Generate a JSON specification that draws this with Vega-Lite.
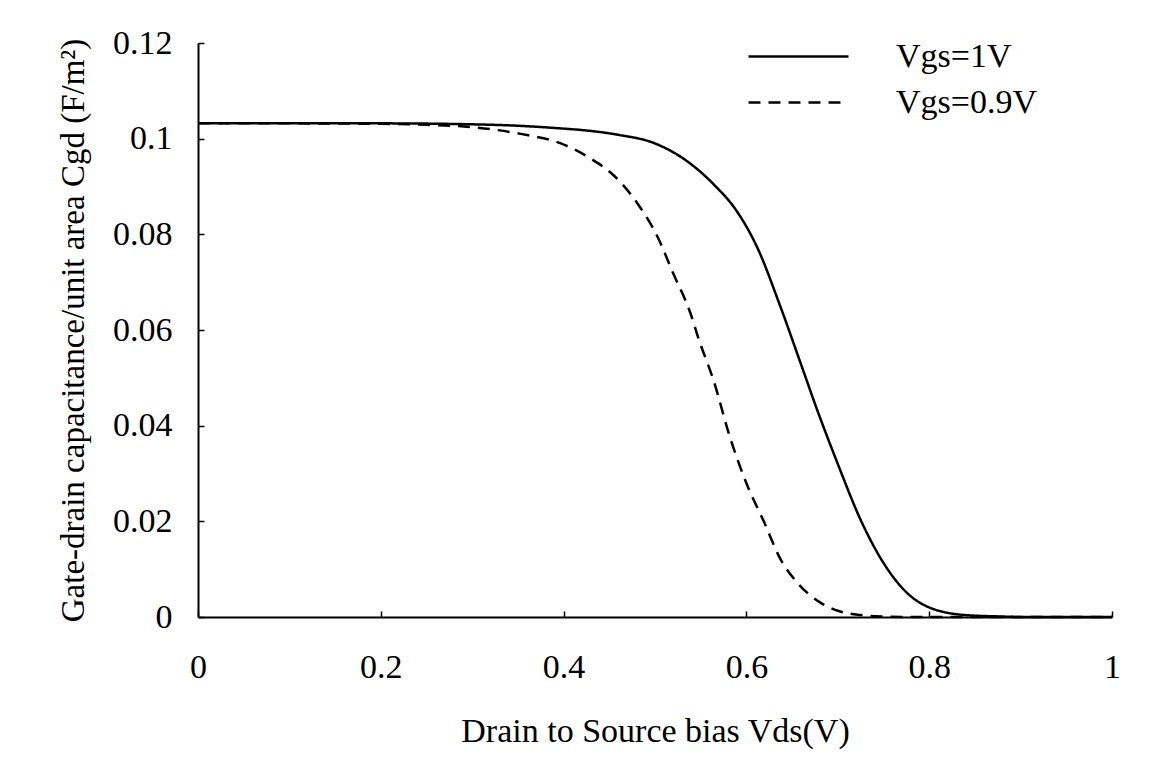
{
  "$schema": "https://vega.github.io/schema/vega-lite/v6.json",
  "width": 914,
  "height": 574,
  "autosize": {"type": "none"},
  "padding": {"left": 198, "top": 43, "right": 40, "bottom": 164},
  "background": "white",
  "config": {
    "view": {"stroke": null},
    "font": "Liberation Serif"
  },
  "data": {
    "values": [
      {"vds": 0, "cgd": 0.1032, "series": "Vgs=1V"},
      {"vds": 0.1, "cgd": 0.1032, "series": "Vgs=1V"},
      {"vds": 0.2, "cgd": 0.1032, "series": "Vgs=1V"},
      {"vds": 0.3, "cgd": 0.1030, "series": "Vgs=1V"},
      {"vds": 0.35, "cgd": 0.1027, "series": "Vgs=1V"},
      {"vds": 0.4, "cgd": 0.1021, "series": "Vgs=1V"},
      {"vds": 0.42, "cgd": 0.1018, "series": "Vgs=1V"},
      {"vds": 0.46, "cgd": 0.1008, "series": "Vgs=1V"},
      {"vds": 0.5, "cgd": 0.0990, "series": "Vgs=1V"},
      {"vds": 0.535, "cgd": 0.0953, "series": "Vgs=1V"},
      {"vds": 0.565, "cgd": 0.0903, "series": "Vgs=1V"},
      {"vds": 0.59, "cgd": 0.0847, "series": "Vgs=1V"},
      {"vds": 0.612, "cgd": 0.0772, "series": "Vgs=1V"},
      {"vds": 0.637, "cgd": 0.0650, "series": "Vgs=1V"},
      {"vds": 0.66, "cgd": 0.0527, "series": "Vgs=1V"},
      {"vds": 0.678, "cgd": 0.0430, "series": "Vgs=1V"},
      {"vds": 0.7, "cgd": 0.0320, "series": "Vgs=1V"},
      {"vds": 0.725, "cgd": 0.0203, "series": "Vgs=1V"},
      {"vds": 0.75, "cgd": 0.0113, "series": "Vgs=1V"},
      {"vds": 0.776, "cgd": 0.0050, "series": "Vgs=1V"},
      {"vds": 0.8, "cgd": 0.0020, "series": "Vgs=1V"},
      {"vds": 0.84, "cgd": 0.0004, "series": "Vgs=1V"},
      {"vds": 0.88, "cgd": 0.0001, "series": "Vgs=1V"},
      {"vds": 0.9, "cgd": 0, "series": "Vgs=1V"},
      {"vds": 1.0, "cgd": 0, "series": "Vgs=1V"},
      {"vds": 0, "cgd": 0.1032, "series": "Vgs=0.9V"},
      {"vds": 0.1, "cgd": 0.1032, "series": "Vgs=0.9V"},
      {"vds": 0.2, "cgd": 0.1031, "series": "Vgs=0.9V"},
      {"vds": 0.25, "cgd": 0.1029, "series": "Vgs=0.9V"},
      {"vds": 0.3, "cgd": 0.1024, "series": "Vgs=0.9V"},
      {"vds": 0.353, "cgd": 0.1010, "series": "Vgs=0.9V"},
      {"vds": 0.397, "cgd": 0.0990, "series": "Vgs=0.9V"},
      {"vds": 0.43, "cgd": 0.0958, "series": "Vgs=0.9V"},
      {"vds": 0.455, "cgd": 0.0923, "series": "Vgs=0.9V"},
      {"vds": 0.481, "cgd": 0.0864, "series": "Vgs=0.9V"},
      {"vds": 0.503, "cgd": 0.0794, "series": "Vgs=0.9V"},
      {"vds": 0.52, "cgd": 0.0718, "series": "Vgs=0.9V"},
      {"vds": 0.539, "cgd": 0.0634, "series": "Vgs=0.9V"},
      {"vds": 0.548, "cgd": 0.0580, "series": "Vgs=0.9V"},
      {"vds": 0.564, "cgd": 0.0495, "series": "Vgs=0.9V"},
      {"vds": 0.582, "cgd": 0.0376, "series": "Vgs=0.9V"},
      {"vds": 0.601, "cgd": 0.0275, "series": "Vgs=0.9V"},
      {"vds": 0.619, "cgd": 0.0200, "series": "Vgs=0.9V"},
      {"vds": 0.637, "cgd": 0.0122, "series": "Vgs=0.9V"},
      {"vds": 0.656, "cgd": 0.0071, "series": "Vgs=0.9V"},
      {"vds": 0.681, "cgd": 0.0030, "series": "Vgs=0.9V"},
      {"vds": 0.7, "cgd": 0.0013, "series": "Vgs=0.9V"},
      {"vds": 0.725, "cgd": 0.0004, "series": "Vgs=0.9V"},
      {"vds": 0.75, "cgd": 0.0001, "series": "Vgs=0.9V"},
      {"vds": 0.78, "cgd": 0, "series": "Vgs=0.9V"},
      {"vds": 1.0, "cgd": 0, "series": "Vgs=0.9V"}
    ]
  },
  "mark": {"type": "line", "color": "black", "strokeWidth": 2.5, "interpolate": "monotone"},
  "encoding": {
    "x": {
      "field": "vds",
      "type": "quantitative",
      "scale": {"domain": [0, 1], "nice": false},
      "axis": {
        "title": "Drain to Source bias Vds(V)",
        "values": [0, 0.2, 0.4, 0.6, 0.8, 1],
        "format": ".1~f",
        "grid": false,
        "domainColor": "black",
        "domainWidth": 2,
        "tickColor": "black",
        "tickSize": -6,
        "tickWidth": 1.5,
        "labelFont": "Liberation Serif",
        "labelFontSize": 34,
        "labelColor": "black",
        "labelPadding": 39,
        "labelFlush": false,
        "titleFont": "Liberation Serif",
        "titleFontSize": 34,
        "titleFontWeight": "normal",
        "titleColor": "black",
        "titlePadding": 30
      }
    },
    "y": {
      "field": "cgd",
      "type": "quantitative",
      "scale": {"domain": [0, 0.12], "nice": false},
      "axis": {
        "title": "Gate-drain capacitance/unit area Cgd (F/m²)",
        "values": [0, 0.02, 0.04, 0.06, 0.08, 0.1, 0.12],
        "format": ".2~f",
        "grid": false,
        "domainColor": "black",
        "domainWidth": 2,
        "tickColor": "black",
        "tickSize": -6,
        "tickWidth": 1.5,
        "labelFont": "Liberation Serif",
        "labelFontSize": 34,
        "labelColor": "black",
        "labelPadding": 32,
        "labelFlush": false,
        "titleFont": "Liberation Serif",
        "titleFontSize": 33,
        "titleFontWeight": "normal",
        "titleColor": "black",
        "titlePadding": 22
      }
    },
    "strokeDash": {
      "field": "series",
      "type": "nominal",
      "sort": ["Vgs=1V", "Vgs=0.9V"],
      "scale": {"domain": ["Vgs=1V", "Vgs=0.9V"], "range": [[1, 0], [12, 8]]},
      "legend": {
        "title": null,
        "orient": "none",
        "legendX": 576,
        "legendY": -11,
        "padding": 0,
        "symbolType": "M-2.174,0H2.174",
        "symbolSize": 2116,
        "symbolStrokeWidth": 2.5,
        "symbolStrokeColor": "black",
        "symbolFillColor": "transparent",
        "labelFont": "Liberation Serif",
        "labelFontSize": 34,
        "labelColor": "black",
        "labelOffset": 73,
        "rowPadding": 4
      }
    }
  }
}
